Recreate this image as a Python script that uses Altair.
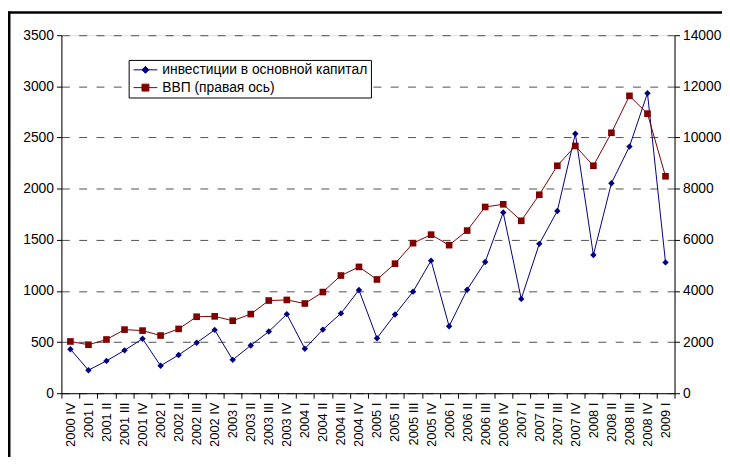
import altair as alt
import pandas as pd

quarters = ["2000 IV",
            "2001 I", "2001 II", "2001 III", "2001 IV",
            "2002 I", "2002 II", "2002 III", "2002 IV",
            "2003 I", "2003 II", "2003 III", "2003 IV",
            "2004 I", "2004 II", "2004 III", "2004 IV",
            "2005 I", "2005 II", "2005 III", "2005 IV",
            "2006 I", "2006 II", "2006 III", "2006 IV",
            "2007 I", "2007 II", "2007 III", "2007 IV",
            "2008 I", "2008 II", "2008 III", "2008 IV",
            "2009 I"]

investments = [430, 225, 316, 419, 532, 268, 374, 493, 619, 326, 467, 603, 773,
               435, 622, 780, 1009, 538, 770, 993, 1296, 654, 1012, 1283, 1766,
               922, 1460, 1782, 2537, 1351, 2053, 2411, 2933, 1279]

gdp = [2023, 1895, 2100, 2487, 2448, 2255, 2514, 2990, 3005, 2835, 3094, 3624,
       3647, 3508, 3956, 4602, 4939, 4448, 5066, 5867, 6200, 5790, 6360, 7283,
       7387, 6742, 7761, 8895, 9669, 8895, 10184, 11629, 10932, 8483]

series_names = ["инвестиции в основной капитал", "ВВП (правая ось)"]
series_colors = ["#000080", "#800000"]

left_ticks = [0, 500, 1000, 1500, 2000, 2500, 3000, 3500]
right_ticks = [0, 2000, 4000, 6000, 8000, 10000, 12000, 14000]

df = pd.DataFrame({"quarter": quarters, "inv": investments, "gdp": gdp})
legend_df = pd.DataFrame({"series": series_names})

FONT = "Liberation Sans"

x_enc = alt.X(
    "quarter:O",
    sort=quarters,
    scale=alt.Scale(type="band", paddingInner=0, paddingOuter=0),
    axis=alt.Axis(
        title=None, labelAngle=270, labelFontSize=13, labelFont=FONT,
        labelColor="black", tickBand="extent", tickSize=5, tickColor="black",
        domainColor="black", labelPadding=4, grid=False,
    ),
)

y_left = alt.Y(
    "inv:Q",
    scale=alt.Scale(domain=[0, 3500], nice=False, zero=True),
    axis=alt.Axis(
        title=None, orient="left", values=left_ticks, format="d", labelFontSize=14,
        labelFont=FONT, labelColor="black", tickSize=5, tickColor="black",
        domainColor="black", labelPadding=3, grid=True, gridColor="#505050",
        gridDash=[8, 9.5], gridWidth=1, gridOpacity=1,
    ),
)

y_right = alt.Y(
    "gdp:Q",
    scale=alt.Scale(domain=[0, 14000], nice=False, zero=True),
    axis=alt.Axis(
        title=None, orient="right", values=right_ticks, format="d", labelFontSize=14,
        labelFont=FONT, labelColor="black", tickSize=5, tickColor="black",
        domainColor="black", labelPadding=3, grid=False,
    ),
)

base = alt.Chart(df)

inv_line = base.mark_line(color=series_colors[0], strokeWidth=1).encode(x=x_enc, y=y_left)
inv_pts = base.mark_point(shape="diamond", filled=True, size=42, color=series_colors[0],
                          opacity=1).encode(x=x_enc, y=y_left)

legend_paths = [
    "M-1,0H3.8M1.4,-0.7L2.1,0L1.4,0.7L0.7,0Z",
    "M-1,0H3.8M0.7,-0.7H2.1V0.7H0.7Z",
]

legend = alt.Legend(
    title=None, orient="none", legendX=68, legendY=25, fillColor="white",
    strokeColor="black", padding=3, labelFontSize=14, labelFont=FONT,
    labelColor="black", symbolSize=100, symbolStrokeWidth=1, labelOffset=17,
    rowPadding=4, symbolOpacity=1, cornerRadius=0, labelLimit=0,
)

legend_layer = alt.Chart(legend_df).mark_point(filled=True).encode(
    shape=alt.Shape("series:N", scale=alt.Scale(domain=series_names, range=legend_paths),
                    legend=legend),
    fill=alt.Fill("series:N", scale=alt.Scale(domain=series_names, range=series_colors),
                  legend=legend),
    stroke=alt.Stroke("series:N", scale=alt.Scale(domain=series_names, range=series_colors),
                      legend=legend),
).transform_filter("false")

gdp_line = base.mark_line(color=series_colors[1], strokeWidth=1).encode(x=x_enc, y=y_right)
gdp_pts = base.mark_point(shape="square", filled=True, size=45, color=series_colors[1],
                          opacity=1).encode(x=x_enc, y=y_right)

left = alt.layer(inv_line, inv_pts, legend_layer)
right = alt.layer(gdp_line, gdp_pts)

frame_data = alt.Data(values=[{"k": 1}])
frame_left = alt.Chart(frame_data).mark_rule(color="black", strokeWidth=3).encode(
    x=alt.value(-53), y=alt.value(-24), y2=alt.value(430))
frame_top = alt.Chart(frame_data).mark_rule(color="black", strokeWidth=2.5).encode(
    x=alt.value(-54), x2=alt.value(668), y=alt.value(-23))

chart = alt.layer(left, right, frame_left, frame_top).resolve_scale(
    y="independent"
).properties(
    width=620, height=362,
    autosize=alt.AutoSizeParams(type="none"),
    padding={"left": 54, "top": 25, "right": 48, "bottom": 62},
).configure_view(stroke=None).configure(background="white")

chart.save("out.html", embed_options={"renderer": "svg", "actions": False})
